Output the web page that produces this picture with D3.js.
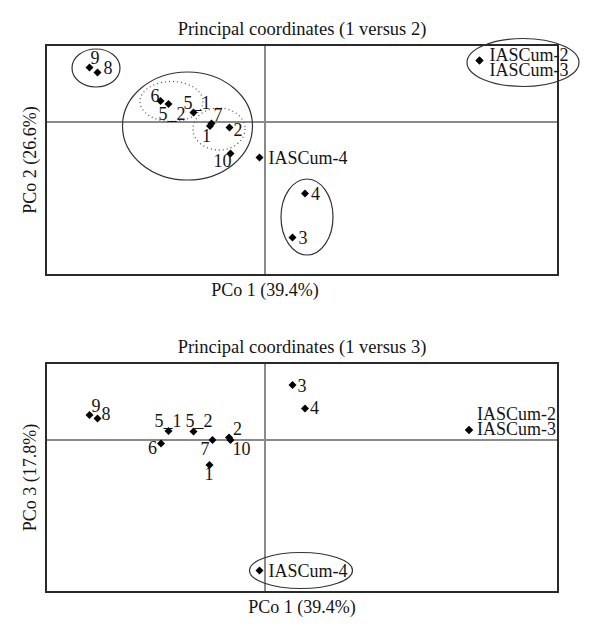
<!DOCTYPE html>
<html>
<head>
<meta charset="utf-8">
<script src="https://cdn.jsdelivr.net/npm/d3@7"></script>
<style>
  body { margin: 0; background: #fff; }
  text { font-family: "Liberation Serif", "Times New Roman", serif; fill: #151515; }
</style>
</head>
<body>
<svg id="chart" width="600" height="644"></svg>
<script>
// PCo scores (panel 1: PCo1 vs PCo2)
const labels12 = ['9', '8', '6', '5_2', '5_1', '7', '1', '2', '10', 'IASCum-4', '4', '3', 'IASCum-2', 'IASCum-3'];
const pco1a = [-0.351, -0.335, -0.209, -0.193, -0.143, -0.107, -0.110, -0.071, -0.069, -0.011, 0.080, 0.055, 0.429, 0.429];
const pco2 = [0.109, 0.099, 0.042, 0.036, 0.019, -0.003, -0.008, -0.011, -0.063, -0.071, -0.143, -0.231, 0.123, 0.123];

// panel 2: PCo1 vs PCo3
const labels13 = ['9', '8', '5_1', '5_2', '6', '7', '2', '10', '1', '3', '4', 'IASCum-4', 'IASCum-2', 'IASCum-3'];
const pco1b = [-0.351, -0.335, -0.193, -0.143, -0.208, -0.105, -0.072, -0.069, -0.111, 0.055, 0.080, -0.011, 0.408, 0.408];
const pco3 = [0.050, 0.043, 0.018, 0.017, -0.007, 0.000, 0.005, 0.000, -0.050, 0.110, 0.063, -0.261, 0.020, 0.020];

// grouping ellipses (centre and radii in PCo units)
const groups12 = [
  { cx: -0.338, cy: 0.108, rx: 0.048, ry: 0.038, dotted: false },
  { cx: -0.155, cy: -0.008, rx: 0.130, ry: 0.108, dotted: false },
  { cx: -0.187, cy: 0.041, rx: 0.063, ry: 0.040, dotted: true },
  { cx: -0.092, cy: -0.014, rx: 0.052, ry: 0.042, dotted: true },
  { cx: 0.084, cy: -0.190, rx: 0.052, ry: 0.076, dotted: false },
  { cx: 0.516, cy: 0.119, rx: 0.112, ry: 0.048, dotted: false }
];
const groups13 = [
  { cx: 0.072, cy: -0.261, rx: 0.103, ry: 0.036, dotted: false }
];

// label placement next to each marker (px offsets: text start, baseline)
const place12 = {
  '9': [1, -4], '8': [6, 1], '6': [-10, 1], '5_2': [-10, 16], '5_1': [-10, -4],
  '7': [2, -3], '1': [-8, 16], '2': [4, 8], '10': [-17, 13], 'IASCum-4': [9, 6],
  '4': [6, 6], '3': [6, 6], 'IASCum-2': [10, 0], 'IASCum-3': [10, 15.5]
};
const place13 = {
  '9': [2, -3], '8': [4, 1], '5_1': [-14, -4], '5_2': [-8, -5], '6': [-13, 10],
  '7': [-12, 15], '2': [4, -3], '10': [2, 15], '1': [-5, 15], '3': [5, 7], '4': [5, 5],
  'IASCum-4': [9, 6], 'IASCum-2': [8, -10], 'IASCum-3': [8, 5]
};

const svg = d3.select('#chart');
const diamond = d3.symbol().type(d3.symbolSquare).size(32)();

/**
 * Draw one ordination panel inside its frame.
 */
function drawPanel(cfg) {
  const { top, bottom, yDomain, labels, xs, ys, groups, place, title, xLabel, yLabel, xLabelX } = cfg;
  const x = d3.scaleLinear().domain([-0.438, 0.586]).range([46, 558]);
  const y = d3.scaleLinear().domain(yDomain).range([bottom, top]);
  const g = svg.append('g');

  // zero lines
  g.append('line')
    .attr('x1', x(0)).attr('x2', x(0)).attr('y1', top).attr('y2', bottom)
    .attr('stroke', '#8a8a8a').attr('stroke-width', 2);
  g.append('line')
    .attr('x1', 46).attr('x2', 558).attr('y1', y(0)).attr('y2', y(0))
    .attr('stroke', '#8a8a8a').attr('stroke-width', 2);

  // frame
  g.append('rect')
    .attr('x', 46).attr('y', top).attr('width', 512).attr('height', bottom - top)
    .attr('fill', 'none').attr('stroke', '#2a2a2a').attr('stroke-width', 2);

  // group ellipses
  groups.forEach(e => {
    g.append('ellipse')
      .attr('cx', x(e.cx)).attr('cy', y(e.cy))
      .attr('rx', x(e.rx) - x(0)).attr('ry', y(0) - y(e.ry))
      .attr('fill', 'none')
      .attr('stroke', e.dotted ? '#555' : '#333')
      .attr('stroke-width', e.dotted ? 1.3 : 1.2)
      .attr('stroke-dasharray', e.dotted ? '1,3' : null);
  });

  // markers + labels
  labels.forEach((lab, i) => {
    const px = x(xs[i]), py = y(ys[i]);
    g.append('path')
      .attr('d', diamond)
      .attr('transform', `translate(${px},${py}) rotate(45)`)
      .attr('fill', '#000');
    const off = place[lab];
    g.append('text')
      .attr('x', px + off[0]).attr('y', py + off[1])
      .attr('font-size', 18)
      .text(lab);
  });

  // titles
  svg.append('text')
    .attr('x', 302).attr('y', top - 10)
    .attr('text-anchor', 'middle').attr('font-size', 18.5)
    .text(title);
  svg.append('text')
    .attr('x', xLabelX).attr('y', bottom + 21)
    .attr('text-anchor', 'middle').attr('font-size', 18)
    .text(xLabel);
  svg.append('text')
    .attr('transform', `translate(36,${(top + bottom) / 2}) rotate(-90)`)
    .attr('text-anchor', 'middle').attr('font-size', 18)
    .text(yLabel);
}

drawPanel({
  top: 45, bottom: 275, yDomain: [-0.306, 0.154],
  labels: labels12, xs: pco1a, ys: pco2, groups: groups12, place: place12,
  title: 'Principal coordinates (1 versus 2)',
  xLabel: 'PCo 1 (39.4%)', yLabel: 'PCo 2 (26.6%)', xLabelX: 265
});

drawPanel({
  top: 363, bottom: 592, yDomain: [-0.304, 0.154],
  labels: labels13, xs: pco1b, ys: pco3, groups: groups13, place: place13,
  title: 'Principal coordinates (1 versus 3)',
  xLabel: 'PCo 1 (39.4%)', yLabel: 'PCo 3 (17.8%)', xLabelX: 302
});
</script>
</body>
</html>
